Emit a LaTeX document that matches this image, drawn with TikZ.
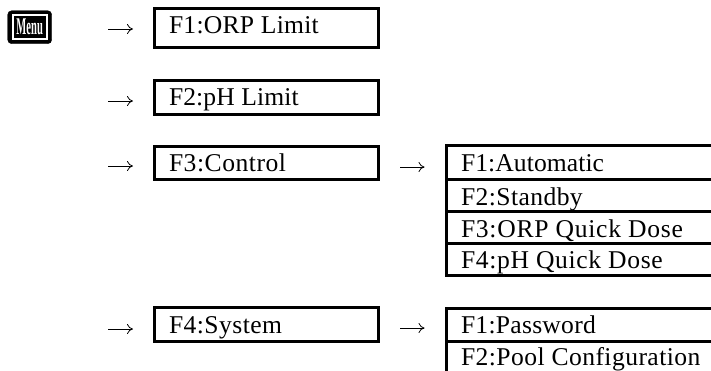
\documentclass[tikz,border=0pt]{standalone}
\usepackage{fontspec}
\setmainfont{Liberation Serif}
\usetikzlibrary{arrows.meta}
\newcommand{\trk}[2]{{\addfontfeature{LetterSpace=#1}#2}}
\tikzset{
  x=1pt,y=-1pt,
  boxn/.style={draw=black,line width=3pt,fill=none,inner sep=0pt,outer sep=0pt,anchor=north west,rectangle},
  lbl/.style={anchor=base west,inner sep=0pt,outer sep=0pt,font=\fontsize{25.6}{28}\selectfont,text=black},
  arr/.style={draw=black,line width=0.8pt,-{Computer Modern Rightarrow[length=6pt,width=10pt]},shorten >=21.5pt},
}
\begin{document}
\begin{tikzpicture}
\useasboundingbox (0,0) rectangle (711,370);
% menu icon
\node[draw=black,fill=black,rounded corners=4pt,minimum width=44pt,minimum height=33pt,inner sep=0pt,anchor=north west] (icon) at (7.5,10.5) {};
\node[draw=white,line width=1.6pt,fill=black,minimum width=34pt,minimum height=24pt,inner sep=0pt,anchor=center] (iconin) at (icon.center) {};
\node[text=white,inner sep=0pt,font=\bfseries\fontsize{24}{25}\selectfont,xscale=0.44] (icontxt) at (icon.center) {Menu};
% left boxes
\node[boxn,minimum width=224pt,minimum height=39.5pt] (a1) at (154.5,8) {};
\node[boxn,minimum width=224pt,minimum height=34pt] (a2) at (154.5,80) {};
\node[boxn,minimum width=224pt,minimum height=33.5pt] (a3) at (154.5,146) {};
\node[boxn,minimum width=224pt,minimum height=33.5pt] (a4) at (154.5,307.5) {};
\node[lbl] (ta1) at (169,33) {\trk{1}{F1:ORP Limit}};
\node[lbl] (ta2) at (169,105) {\trk{0.4}{F2:pH Limit}};
\node[lbl] (ta3) at (169,171) {\trk{2}{F3:Control}};
\node[lbl] (ta4) at (169,333) {\trk{1.7}{F4:System}};
% right boxes (run off the page on the right)
\node[boxn,minimum width=280pt,minimum height=34pt] (b1) at (446,145) {};
\node[boxn,minimum width=280pt,minimum height=32pt] (b2) at (446,179) {};
\node[boxn,minimum width=280pt,minimum height=32pt] (b3) at (446,211) {};
\node[boxn,minimum width=280pt,minimum height=32.5pt] (b4) at (446,243) {};
\node[boxn,minimum width=280pt,minimum height=33.5pt] (c1) at (446,308) {};
\node[boxn,minimum width=280pt,minimum height=40pt] (c2) at (446,341.5) {};
\node[lbl] (tb1) at (461,171) {\trk{0.3}{F1:Automatic}};
\node[lbl] (tb2) at (461,205) {\trk{1.6}{F2:Standby}};
\node[lbl] (tb3) at (461,237) {\trk{2.8}{F3:ORP Quick Dose}};
\node[lbl] (tb4) at (461,268) {\trk{2.5}{F4:pH Quick Dose}};
\node[lbl] (tc1) at (461,333) {\trk{1}{F1:Password}};
\node[lbl] (tc2) at (461,365) {\trk{1.7}{F2:Pool Configuration}};
% arrows
\coordinate (s1) at (108,29);
\coordinate (s2) at (108,101);
\coordinate (s3) at (108,166);
\coordinate (s4) at (108,329);
\draw[arr] (s1) -- (s1-|a1.west);
\draw[arr] (s2) -- (s2-|a2.west);
\draw[arr] (s3) -- (s3-|a3.west);
\draw[arr] (s4) -- (s4-|a4.west);
\coordinate (r3) at (400,167);
\coordinate (r4) at (400,328);
\draw[arr] (r3) -- (r3-|b1.west);
\draw[arr] (r4) -- (r4-|c1.west);
\end{tikzpicture}
\end{document}
